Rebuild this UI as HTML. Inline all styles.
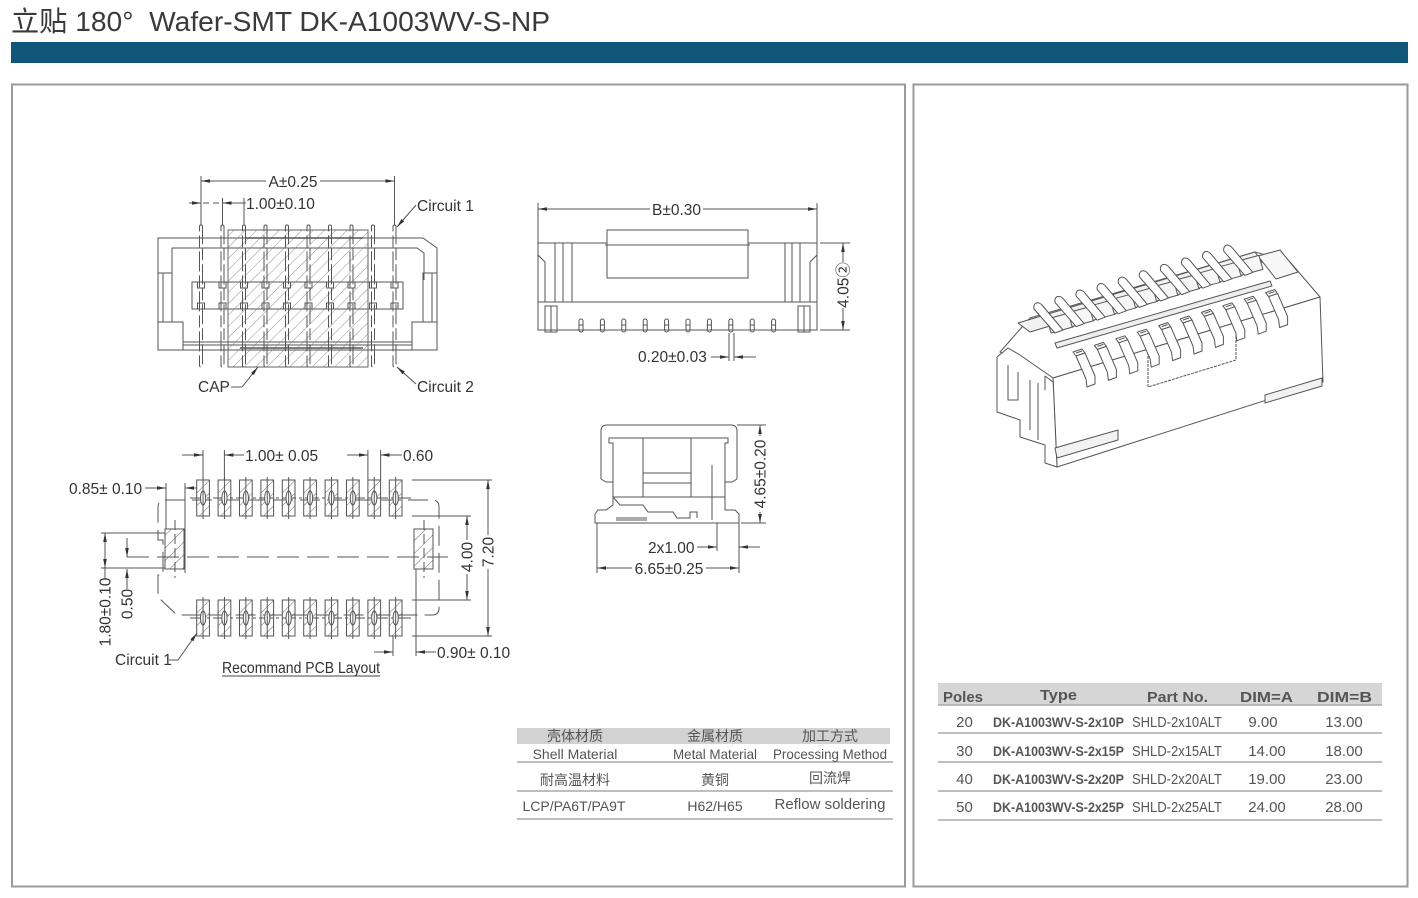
<!DOCTYPE html>
<html><head><meta charset="utf-8">
<style>
html,body{margin:0;padding:0;background:#fff;}
svg{display:block;}
text{font-family:"Liberation Sans","Noto Sans CJK SC",sans-serif;}
</style></head><body>
<svg width="1418" height="898" viewBox="0 0 1418 898" xmlns="http://www.w3.org/2000/svg" xmlns:xlink="http://www.w3.org/1999/xlink">
<defs>
 <marker id="ar" viewBox="0 0 10 4" refX="10" refY="2" markerWidth="9" markerHeight="3.6" markerUnits="userSpaceOnUse" orient="auto"><path d="M0,0L10,2L0,4z" fill="#333"/></marker>
 <pattern id="h" width="8" height="8" patternUnits="userSpaceOnUse" patternTransform="rotate(45)"><line x1="0" y1="0" x2="0" y2="8" stroke="#777" stroke-width="0.8"/></pattern>
 <pattern id="h2" width="9" height="9" patternUnits="userSpaceOnUse" patternTransform="rotate(45)"><line x1="0" y1="0" x2="0" y2="9" stroke="#555" stroke-width="0.9"/></pattern>
 <g id="tp"><rect x="-1.5" y="225" width="3" height="142" rx="1.5" stroke-dasharray="20,4,12,4"/></g>
 <g id="nt"><path d="M-3.5,282v6h7v-6M-3.5,309v-6h7v6"/></g>
 <g id="mp"><rect x="-2" y="319" width="4" height="13" rx="2"/><line x1="-2" y1="325" x2="2" y2="325"/></g>
 <g id="pad"><rect x="0" y="0" width="12.7" height="36" fill="url(#h2)"/><ellipse cx="6.35" cy="18" rx="2.6" ry="7" fill="#fff"/><line x1="6.35" y1="-3" x2="6.35" y2="39"/></g>
 <g id="bp"><polygon points="14,14 36,8 40,22 18,28" fill="#f6f6f6"/><path d="M3,-2Q0,0 1,4L22,28L30,25L9,0Q6,-3 3,-2Z" fill="#fff"/></g>
 <g id="fp"><polygon points="0,0 9,-3 12,1 3,4" fill="#fff"/><path d="M3,1L9,-1" fill="none"/><polygon points="3,4 12,1 22,24 22,32 14,35 13,27" fill="#fff"/></g>
</defs>

<!-- Title -->
<text x="11" y="31" font-size="28" fill="#3a3a3a" textLength="539" lengthAdjust="spacingAndGlyphs" xml:space="preserve">立贴 180°  Wafer-SMT DK-A1003WV-S-NP</text>
<rect x="11" y="42" width="1397" height="21" fill="#10567a"/>

<!-- Panels -->
<rect x="12" y="84.5" width="893" height="802" fill="#fff" stroke="#9a9a9a" stroke-width="2"/>
<rect x="913.5" y="84.5" width="494" height="802" fill="#fff" stroke="#9a9a9a" stroke-width="2"/>

<g stroke="#555" stroke-width="1" fill="none">
 <!-- ============ TOP LEFT VIEW ============ -->
 <path d="M158,238H423L437,248V350H158Z"/>
 <path d="M172,280V248H417L424,253V280"/>
 <rect x="158" y="273" width="14" height="49"/>
 <line x1="163" y1="273" x2="163" y2="322"/>
 <rect x="423" y="273" width="14" height="49"/>
 <line x1="432" y1="273" x2="432" y2="322"/>
 <rect x="158" y="322" width="25" height="28"/>
 <rect x="412" y="322" width="25" height="28"/>
 <line x1="183" y1="342" x2="412" y2="342"/>
 <line x1="183" y1="345" x2="412" y2="345"/>
 <rect x="192" y="282" width="211" height="27"/>
 <use xlink:href="#nt" x="201"/><use xlink:href="#nt" x="222.5"/><use xlink:href="#nt" x="244"/><use xlink:href="#nt" x="265.5"/><use xlink:href="#nt" x="287"/><use xlink:href="#nt" x="308.5"/><use xlink:href="#nt" x="330"/><use xlink:href="#nt" x="351.5"/><use xlink:href="#nt" x="373"/><use xlink:href="#nt" x="394.5"/>
 <rect x="228" y="230" width="140" height="137" fill="url(#h)" stroke="#666"/>
 <line x1="245" y1="238" x2="363" y2="238" stroke-width="1.5"/>
 <line x1="240" y1="348" x2="363" y2="348" stroke-width="1.5"/>
 <use xlink:href="#tp" x="201"/><use xlink:href="#tp" x="222.5"/><use xlink:href="#tp" x="244"/><use xlink:href="#tp" x="265.5"/><use xlink:href="#tp" x="287"/><use xlink:href="#tp" x="308.5"/><use xlink:href="#tp" x="330"/><use xlink:href="#tp" x="351.5"/><use xlink:href="#tp" x="373"/><use xlink:href="#tp" x="394.5"/>
 <!-- dims -->
 <line x1="201" y1="176" x2="201" y2="225"/>
 <line x1="394.5" y1="176" x2="394.5" y2="225"/>
 <path d="M266,181H201" marker-end="url(#ar)"/>
 <path d="M320,181H394.5" marker-end="url(#ar)"/>
 <line x1="222.5" y1="198" x2="222.5" y2="225"/>
 <line x1="244" y1="198" x2="244" y2="225"/>
 <path d="M189,203H201" marker-end="url(#ar)"/>
 <path d="M246,203H222.5" marker-end="url(#ar)"/>
 <line x1="203" y1="203" x2="220" y2="203" stroke-dasharray="6,4"/>
 <path d="M416,205L397,227" marker-end="url(#ar)"/>
 <path d="M416,384L397,367" marker-end="url(#ar)"/>
 <path d="M231,387H242L258,367" marker-end="url(#ar)"/>

 <!-- ============ TOP MIDDLE VIEW ============ -->
 <line x1="538" y1="203" x2="538" y2="243"/>
 <line x1="817" y1="203" x2="817" y2="243"/>
 <path d="M650,209H538" marker-end="url(#ar)"/>
 <path d="M703,209H817" marker-end="url(#ar)"/>
 <rect x="538" y="243" width="279" height="87"/>
 <rect x="607" y="230" width="141" height="48" fill="#fff"/>
 <line x1="605" y1="245" x2="750" y2="245"/>
 <line x1="555" y1="243" x2="555" y2="302"/>
 <line x1="563" y1="243" x2="563" y2="302"/>
 <line x1="572" y1="243" x2="572" y2="302"/>
 <line x1="785" y1="243" x2="785" y2="302"/>
 <line x1="792" y1="243" x2="792" y2="302"/>
 <line x1="800" y1="243" x2="800" y2="302"/>
 <path d="M538,255L545,262V302M817,255L810,262V302"/>
 <line x1="538" y1="302" x2="817" y2="302"/>
 <rect x="545" y="306" width="12" height="26"/>
 <line x1="551" y1="306" x2="551" y2="332"/>
 <rect x="798" y="306" width="12" height="26"/>
 <line x1="804" y1="306" x2="804" y2="332"/>
 <line x1="557" y1="330" x2="798" y2="330" stroke-dasharray="10,4"/>
 <use xlink:href="#mp" x="581"/><use xlink:href="#mp" x="602.4"/><use xlink:href="#mp" x="623.8"/><use xlink:href="#mp" x="645.2"/><use xlink:href="#mp" x="666.6"/><use xlink:href="#mp" x="688"/><use xlink:href="#mp" x="709.4"/><use xlink:href="#mp" x="730.8"/><use xlink:href="#mp" x="752.2"/><use xlink:href="#mp" x="773.6"/>
 <line x1="820" y1="243" x2="850" y2="243"/>
 <line x1="820" y1="330" x2="850" y2="330"/>
 <path d="M843,262V243" marker-end="url(#ar)"/>
 <path d="M843,308V330" marker-end="url(#ar)"/>
 <line x1="729" y1="333" x2="729" y2="361"/>
 <line x1="734" y1="333" x2="734" y2="361"/>
 <path d="M711,357H729" marker-end="url(#ar)"/>
 <path d="M756,357H734" marker-end="url(#ar)"/>

 <!-- ============ SIDE VIEW ============ -->
 <path d="M601,479V431Q601,425 607,425H731Q737,425 737,431V479"/>
 <path d="M601,479L606,482H613M737,479L732,482H725"/>
 <path d="M613,482V443H609V438H728V443H725V482"/>
 <path d="M613,482V497H725V482"/>
 <line x1="643" y1="438" x2="643" y2="497"/>
 <line x1="691" y1="438" x2="691" y2="497"/>
 <line x1="643" y1="473" x2="691" y2="473"/>
 <line x1="643" y1="483" x2="691" y2="483"/>
 <line x1="712" y1="465" x2="712" y2="520"/>
 <path d="M613,497L620,505H643L648,512H673L677,518H690V512H697V518"/>
 <path d="M613,497V505L606,510H598L595,514V523H739V514L735,510H725V497"/>
 <rect x="616" y="517" width="31" height="4" fill="#aaa" stroke="none"/>
 <line x1="737" y1="425" x2="766" y2="425"/>
 <line x1="741" y1="523" x2="766" y2="523"/>
 <path d="M760,436V425" marker-end="url(#ar)"/>
 <path d="M760,512V523" marker-end="url(#ar)"/>
 <line x1="717" y1="523" x2="717" y2="551"/>
 <line x1="739" y1="523" x2="739" y2="573"/>
 <path d="M697,547H717" marker-end="url(#ar)"/>
 <path d="M760,547H739" marker-end="url(#ar)"/>
 <line x1="597" y1="523" x2="597" y2="573"/>
 <path d="M632,568H597" marker-end="url(#ar)"/>
 <path d="M706,568H739" marker-end="url(#ar)"/>

 <!-- ============ PCB LAYOUT ============ -->
 <path d="M165,500H432Q439,500 439,507V608Q439,615 432,615H177L158,597V575H163V540H158V507Q158,500 165,500" stroke-dasharray="20,7"/>
 <line x1="127" y1="557" x2="448" y2="557" stroke-dasharray="22,8"/>
 <line x1="190" y1="498" x2="412" y2="498" stroke-dasharray="14,3,3,3"/>
 <line x1="190" y1="618" x2="412" y2="618" stroke-dasharray="14,3,3,3"/>
 <line x1="175" y1="520" x2="175" y2="578" stroke-dasharray="10,4"/>
 <line x1="424" y1="520" x2="424" y2="578" stroke-dasharray="10,4"/>
 <rect x="165" y="529" width="19" height="40" fill="url(#h2)"/>
 <rect x="414" y="529" width="19" height="40" fill="url(#h2)"/>
 <g transform="translate(0,480)"><use xlink:href="#pad" x="196.7"/><use xlink:href="#pad" x="218.1"/><use xlink:href="#pad" x="239.5"/><use xlink:href="#pad" x="260.9"/><use xlink:href="#pad" x="282.3"/><use xlink:href="#pad" x="303.7"/><use xlink:href="#pad" x="325.1"/><use xlink:href="#pad" x="346.5"/><use xlink:href="#pad" x="367.9"/><use xlink:href="#pad" x="389.3"/></g>
 <g transform="translate(0,600)"><use xlink:href="#pad" x="196.7"/><use xlink:href="#pad" x="218.1"/><use xlink:href="#pad" x="239.5"/><use xlink:href="#pad" x="260.9"/><use xlink:href="#pad" x="282.3"/><use xlink:href="#pad" x="303.7"/><use xlink:href="#pad" x="325.1"/><use xlink:href="#pad" x="346.5"/><use xlink:href="#pad" x="367.9"/><use xlink:href="#pad" x="389.3"/></g>
 <!-- dims -->
 <line x1="203" y1="450" x2="203" y2="480"/>
 <line x1="224.4" y1="450" x2="224.4" y2="480"/>
 <path d="M182,455H203" marker-end="url(#ar)"/>
 <path d="M244,455H224.4" marker-end="url(#ar)"/>
 <line x1="367.9" y1="450" x2="367.9" y2="480"/>
 <line x1="380.6" y1="450" x2="380.6" y2="480"/>
 <path d="M347,455H367.9" marker-end="url(#ar)"/>
 <path d="M402,455H380.6" marker-end="url(#ar)"/>
 <line x1="166" y1="483" x2="166" y2="529"/>
 <line x1="185" y1="483" x2="185" y2="573"/>
 <path d="M145,488H166" marker-end="url(#ar)"/>
 <path d="M197,488H185" marker-end="url(#ar)"/>
 <line x1="412" y1="516" x2="471" y2="516"/>
 <line x1="412" y1="600" x2="471" y2="600"/>
 <path d="M467,540V516" marker-end="url(#ar)"/>
 <path d="M467,574V600" marker-end="url(#ar)"/>
 <line x1="412" y1="480" x2="492" y2="480"/>
 <line x1="412" y1="636" x2="492" y2="636"/>
 <path d="M488,535V480" marker-end="url(#ar)"/>
 <path d="M488,569V636" marker-end="url(#ar)"/>
 <line x1="101" y1="533" x2="165" y2="533"/>
 <line x1="101" y1="568" x2="165" y2="568"/>
 <path d="M105,550V533" marker-end="url(#ar)"/>
 <path d="M105,550V568" marker-end="url(#ar)"/>
 <line x1="105" y1="568" x2="105" y2="579"/>
 <path d="M127,538V557" marker-end="url(#ar)"/>
 <path d="M127,589V569" marker-end="url(#ar)"/>
 <line x1="393" y1="636" x2="393" y2="656"/>
 <line x1="416" y1="569" x2="416" y2="656"/>
 <path d="M374,652H393" marker-end="url(#ar)"/>
 <path d="M436,652H416" marker-end="url(#ar)"/>
 <path d="M169,660H178L197,633" marker-end="url(#ar)"/>
 <line x1="222" y1="676" x2="380" y2="676" stroke="#444"/>
</g>

<!-- Drawing texts -->
<g font-size="15.5" fill="#333">
 <text x="293" y="187" text-anchor="middle">A±0.25</text>
 <text x="246" y="209">1.00±0.10</text>
 <text x="417" y="211">Circuit 1</text>
 <text x="417" y="392">Circuit 2</text>
 <text x="198" y="392">CAP</text>
 <text x="676.5" y="215" text-anchor="middle">B±0.30</text>
 <text transform="translate(848.5,285) rotate(-90)" text-anchor="middle">4.05②</text>
 <text x="638" y="362">0.20±0.03</text>
 <text transform="translate(765.5,474) rotate(-90)" text-anchor="middle">4.65±0.20</text>
 <text x="648" y="553">2x1.00</text>
 <text x="669" y="574" text-anchor="middle">6.65±0.25</text>
 <text x="245" y="461">1.00± 0.05</text>
 <text x="403" y="461">0.60</text>
 <text x="69" y="494">0.85± 0.10</text>
 <text transform="translate(472.5,557) rotate(-90)" text-anchor="middle">4.00</text>
 <text transform="translate(493.5,552) rotate(-90)" text-anchor="middle">7.20</text>
 <text transform="translate(110.5,612) rotate(-90)" text-anchor="middle">1.80±0.10</text>
 <text transform="translate(132.5,604) rotate(-90)" text-anchor="middle">0.50</text>
 <text x="437" y="658">0.90± 0.10</text>
 <text x="115" y="665">Circuit 1</text>
 <text x="222" y="673" textLength="158" lengthAdjust="spacingAndGlyphs">Recommand PCB Layout</text>
</g>

<!-- Material table -->
<rect x="517" y="728" width="373" height="16" fill="#d2d2d2"/>
<g stroke="#a8a8a8" stroke-width="1.5">
 <line x1="517" y1="762" x2="893" y2="762"/>
 <line x1="517" y1="791" x2="893" y2="791"/>
 <line x1="517" y1="819" x2="893" y2="819"/>
</g>
<g font-size="14" fill="#555" text-anchor="middle">
 <text x="575" y="741">壳体材质</text>
 <text x="715" y="741">金属材质</text>
 <text x="830" y="741">加工方式</text>
 <text x="575" y="759">Shell Material</text>
 <text x="715" y="759" textLength="84" lengthAdjust="spacingAndGlyphs">Metal Material</text>
 <text x="830" y="759" textLength="114" lengthAdjust="spacingAndGlyphs">Processing Method</text>
 <text x="575" y="785">耐高温材料</text>
 <text x="715" y="785">黄铜</text>
 <text x="830" y="783">回流焊</text>
 <text x="574" y="811">LCP/PA6T/PA9T</text>
 <text x="715" y="811">H62/H65</text>
 <text x="830" y="809" font-size="15">Reflow soldering</text>
</g>

<!-- 3D view -->
<g stroke="#555" stroke-width="1" fill="#fff" stroke-linejoin="round">
 <polygon points="1000,352 1030,318 1255,252 1290,262 1320,297 1053,378"/>
 <polygon points="1018,323 1255,252 1262,262 1030,332" fill="#f2f2f2"/>
 <polygon points="1258,256 1280,250 1298,272 1276,279" fill="#f7f7f7"/>
 <polygon points="1053,378 1320,297 1323,382 1057,467"/>
 <polygon points="997,357 1008,348 1020,355 1053,378 1057,467 1045,463 1045,445 1020,437 1020,420 997,412"/>
 <path d="M1008,365V400H1018V372M1030,380V430M1038,383V440M1053,382L1045,376V390" fill="none"/>
 <polygon points="1055,343 1270,281 1272,286 1057,348" fill="#eee"/>
 <polygon points="1055,448 1118,430 1118,440 1057,458" fill="#f2f2f2"/>
 <polygon points="1265,395 1322,378 1322,386 1265,403" fill="#f2f2f2"/>
 <path d="M1148,352V387L1236,360V330" fill="none" stroke-dasharray="3,1"/>
 <use xlink:href="#bp" x="1033" y="305"/><use xlink:href="#bp" x="1054.1" y="298.6"/><use xlink:href="#bp" x="1075.2" y="292.2"/><use xlink:href="#bp" x="1096.3" y="285.8"/><use xlink:href="#bp" x="1117.4" y="279.4"/><use xlink:href="#bp" x="1138.5" y="273"/><use xlink:href="#bp" x="1159.6" y="266.6"/><use xlink:href="#bp" x="1180.7" y="260.2"/><use xlink:href="#bp" x="1201.8" y="253.8"/><use xlink:href="#bp" x="1222.9" y="247.4"/>
 <use xlink:href="#fp" x="1073" y="352"/><use xlink:href="#fp" x="1094.4" y="345.4"/><use xlink:href="#fp" x="1115.8" y="338.8"/><use xlink:href="#fp" x="1137.2" y="332.2"/><use xlink:href="#fp" x="1158.6" y="325.6"/><use xlink:href="#fp" x="1180" y="319"/><use xlink:href="#fp" x="1201.4" y="312.4"/><use xlink:href="#fp" x="1222.8" y="305.8"/><use xlink:href="#fp" x="1244.2" y="299.2"/><use xlink:href="#fp" x="1265.6" y="292.6"/>
</g>

<!-- Right table -->
<rect x="938" y="683" width="444" height="22" fill="#d6d6d6"/>
<g stroke="#a8a8a8" stroke-width="1.5">
 <line x1="938" y1="705" x2="1382" y2="705"/>
 <line x1="938" y1="733" x2="1382" y2="733"/>
 <line x1="938" y1="762" x2="1382" y2="762"/>
 <line x1="938" y1="791" x2="1382" y2="791"/>
 <line x1="938" y1="820" x2="1382" y2="820"/>
</g>
<g font-size="15" fill="#555" font-weight="bold">
 <text x="943" y="702" textLength="40" lengthAdjust="spacingAndGlyphs">Poles</text>
 <text x="1040" y="700" textLength="37" lengthAdjust="spacingAndGlyphs">Type</text>
 <text x="1147" y="702" textLength="61" lengthAdjust="spacingAndGlyphs">Part No.</text>
 <text x="1240" y="702" textLength="53" lengthAdjust="spacingAndGlyphs">DIM=A</text>
 <text x="1317" y="702" textLength="55" lengthAdjust="spacingAndGlyphs">DIM=B</text>
</g>
<g font-size="15" fill="#555">
 <text x="964.5" y="727" text-anchor="middle">20</text>
 <text x="993" y="727" font-weight="bold" font-size="14" textLength="131" lengthAdjust="spacingAndGlyphs">DK-A1003WV-S-2x10P</text>
 <text x="1132" y="727" textLength="90" lengthAdjust="spacingAndGlyphs">SHLD-2x10ALT</text>
 <text x="1263" y="727" text-anchor="middle">9.00</text>
 <text x="1344" y="727" text-anchor="middle">13.00</text>

 <text x="964.5" y="756" text-anchor="middle">30</text>
 <text x="993" y="756" font-weight="bold" font-size="14" textLength="131" lengthAdjust="spacingAndGlyphs">DK-A1003WV-S-2x15P</text>
 <text x="1132" y="756" textLength="90" lengthAdjust="spacingAndGlyphs">SHLD-2x15ALT</text>
 <text x="1267" y="756" text-anchor="middle">14.00</text>
 <text x="1344" y="756" text-anchor="middle">18.00</text>

 <text x="964.5" y="784" text-anchor="middle">40</text>
 <text x="993" y="784" font-weight="bold" font-size="14" textLength="131" lengthAdjust="spacingAndGlyphs">DK-A1003WV-S-2x20P</text>
 <text x="1132" y="784" textLength="90" lengthAdjust="spacingAndGlyphs">SHLD-2x20ALT</text>
 <text x="1267" y="784" text-anchor="middle">19.00</text>
 <text x="1344" y="784" text-anchor="middle">23.00</text>

 <text x="964.5" y="812" text-anchor="middle">50</text>
 <text x="993" y="812" font-weight="bold" font-size="14" textLength="131" lengthAdjust="spacingAndGlyphs">DK-A1003WV-S-2x25P</text>
 <text x="1132" y="812" textLength="90" lengthAdjust="spacingAndGlyphs">SHLD-2x25ALT</text>
 <text x="1267" y="812" text-anchor="middle">24.00</text>
 <text x="1344" y="812" text-anchor="middle">28.00</text>
</g>
</svg>
</body></html>
